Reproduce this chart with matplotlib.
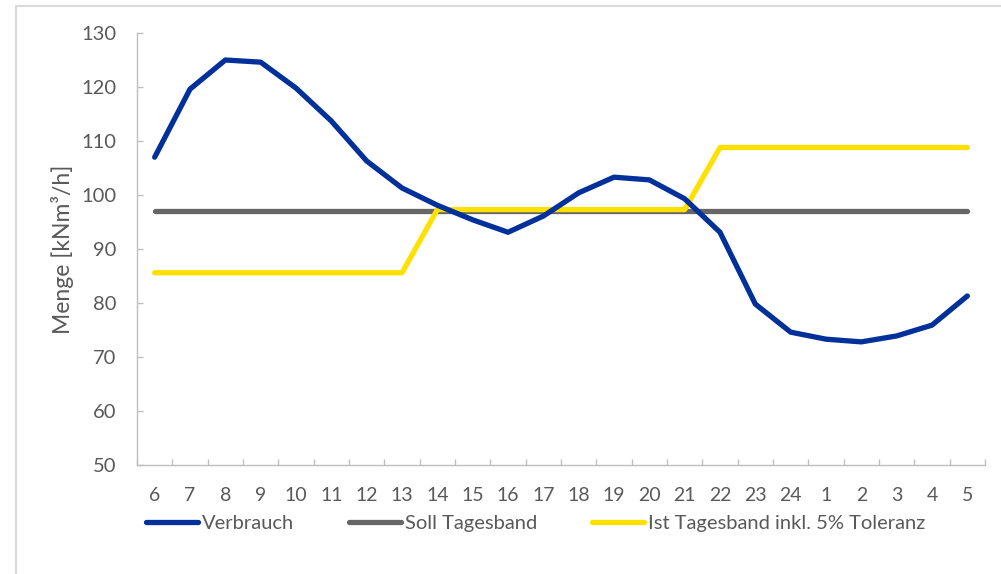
import matplotlib
matplotlib.use("Agg")
import matplotlib.pyplot as plt
from matplotlib.patches import Rectangle

hours = ["6", "7", "8", "9", "10", "11", "12", "13", "14", "15", "16", "17",
         "18", "19", "20", "21", "22", "23", "24", "1", "2", "3", "4", "5"]
verbrauch = [107.0, 119.6, 125.0, 124.6, 119.8, 113.7, 106.3, 101.3, 98.1, 95.4, 93.1, 96.1,
             100.4, 103.3, 102.8, 99.3, 93.1, 79.8, 74.6, 73.3, 72.8, 73.9, 75.9, 81.3]
soll = [97.1] * 24
ist = [85.6] * 8 + [97.3] * 8 + [108.8] * 8

plt.rcParams['font.family'] = ['Lato', 'DejaVu Sans']
txt = '#595959'
spine_c = '#BFBFBF'

fig = plt.figure(figsize=(10.01, 5.74), dpi=100)
W, H = 1001, 574
ax = fig.add_axes([137 / W, 1 - 465 / H, (985 - 137) / W, (465 - 33) / H])

x = list(range(len(hours)))
ax.plot(x, verbrauch, color='#00309A', lw=3.8, solid_capstyle='round', solid_joinstyle='round', label='Verbrauch', zorder=3)
ax.plot(x, soll, color='#666666', lw=3.8, solid_capstyle='round', label='Soll Tagesband', zorder=2)
ax.plot(x, ist, color='#FFE000', lw=3.8, solid_capstyle='round', solid_joinstyle='round',
        label='Ist Tagesband inkl. 5% Toleranz', zorder=2.5)

ax.set_xlim(-0.5, len(hours) - 0.5)
ax.set_ylim(50, 130)
ax.set_yticks(range(50, 131, 10))
ax.set_xticks(x)
ax.set_xticklabels(hours)
ax.set_xticks([i - 0.5 for i in range(len(hours) + 1)], minor=True)

for s in ['top', 'right']:
    ax.spines[s].set_visible(False)
for s in ['left', 'bottom']:
    ax.spines[s].set_color(spine_c)
    ax.spines[s].set_linewidth(1.0)

ax.tick_params(axis='x', which='major', length=0, pad=16, labelsize=14, labelcolor=txt)
ax.tick_params(axis='x', which='minor', length=4, direction='in', color=spine_c, width=1)
ax.tick_params(axis='y', which='major', length=4, direction='in', color=spine_c, width=1,
               pad=15, labelsize=14.5, labelcolor=txt)

ax.set_ylabel('Menge [kNm³/h]', fontsize=16.5, color=txt)
ax.yaxis.set_label_coords((63 - 137) / (985 - 137), 0.5)
ax.yaxis.label.set_va('center')

leg = fig.legend(loc='center left', bbox_to_anchor=(146 / W, 1 - 523 / H), ncol=3, frameon=False,
                 fontsize=14.5, handlelength=2.6, handletextpad=0.2, columnspacing=2.7,
                 labelcolor=txt, borderaxespad=0, borderpad=0)

fig.patches.append(Rectangle((16 / W, -0.05), 1.1, 1 - 6 / H + 0.05, transform=fig.transFigure,
                             fill=False, edgecolor='#D9D9D9', lw=1.5, clip_on=False))

fig.savefig('out.png', dpi=100)
